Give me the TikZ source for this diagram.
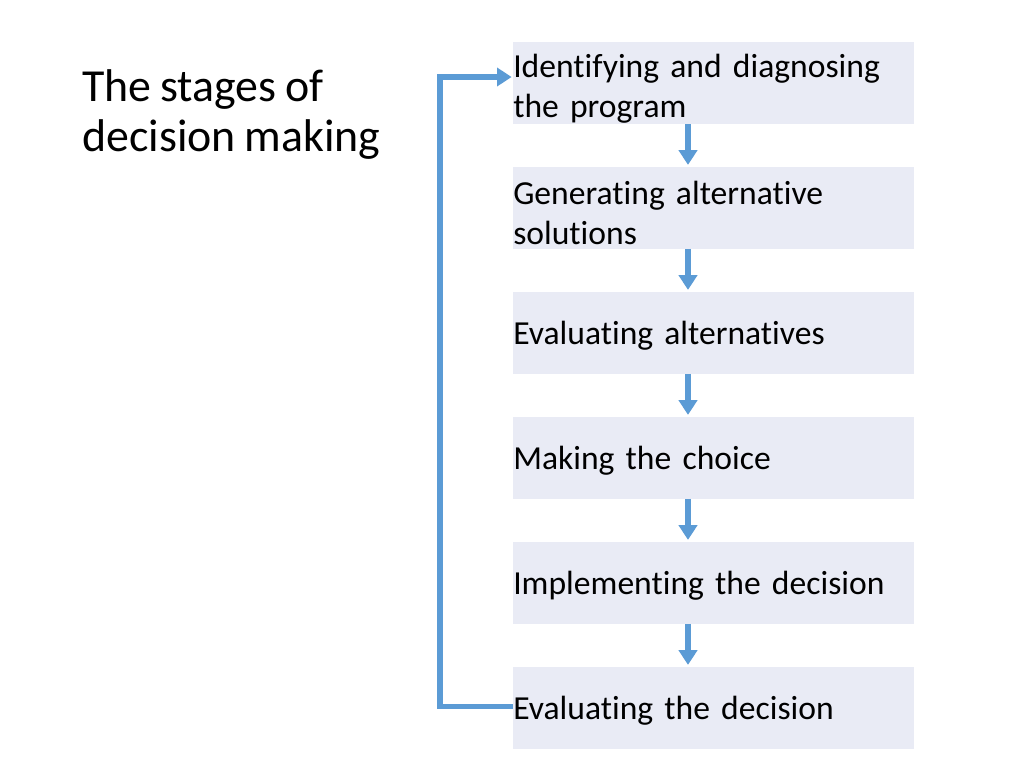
\documentclass[tikz,border=0pt]{standalone}
\usepackage{fontspec}
\setmainfont{Carlito}[Ligatures=NoCommon,WordSpace=0.85]
\usetikzlibrary{arrows.meta,positioning}
\definecolor{boxfill}{HTML}{E9EBF5}
\definecolor{flow}{HTML}{5B9BD5}
\begin{document}
\begin{tikzpicture}[x=0.75pt,y=-0.75pt,
  stage/.style={fill=boxfill,draw=none,inner sep=0pt,text width=300.75pt,minimum height=61.5pt,align=left,
    font=\fontsize{25.2pt}{30pt}\selectfont,text=black},
  flowarrow/.style={draw=flow,line width=4pt,-{Triangle[width=13.5pt,length=11pt]}},
  flowline/.style={draw=flow,line width=4pt}]
\useasboundingbox (0,0) rectangle (1024,768);
\node[anchor=north west,align=left,inner sep=0pt,font=\fontsize{34.4pt}{37.5pt}\selectfont] (title) at (82,69) {The stages of\\decision making};
\node[stage,anchor=west] (b1) at (513,83) {\rule{0pt}{26pt}Identifying and diagnosing\\the program};
\node[stage,anchor=west] (b2) at (513,207.5) {\rule{0pt}{26pt}Generating alternative\\solutions};
\node[stage,anchor=west] (b3) at (513,332.5) {\rule{0pt}{22pt}Evaluating alternatives};
\node[stage,anchor=west] (b4) at (513,457.5) {\rule{0pt}{22pt}Making the choice};
\node[stage,anchor=west] (b5) at (513,582.5) {\rule{0pt}{22pt}Implementing the decision};
\node[stage,anchor=west] (b6) at (513,707.5) {\rule{0pt}{22pt}Evaluating the decision};
\foreach \a/\b in {b1/b2,b2/b3,b3/b4,b4/b5,b5/b6}{
  \draw[flowarrow,shorten >=1pt] ([xshift=131.25pt]\a.south west) -- ([xshift=131.25pt]\b.north west);
}
\coordinate (fbout) at ([yshift=1pt]b6.west);
\coordinate (fbin) at ([yshift=4.5pt]b1.west);
\draw[flowarrow,shorten >=1pt] (fbout) -| (440,77) -- (fbin);
\end{tikzpicture}
\end{document}
